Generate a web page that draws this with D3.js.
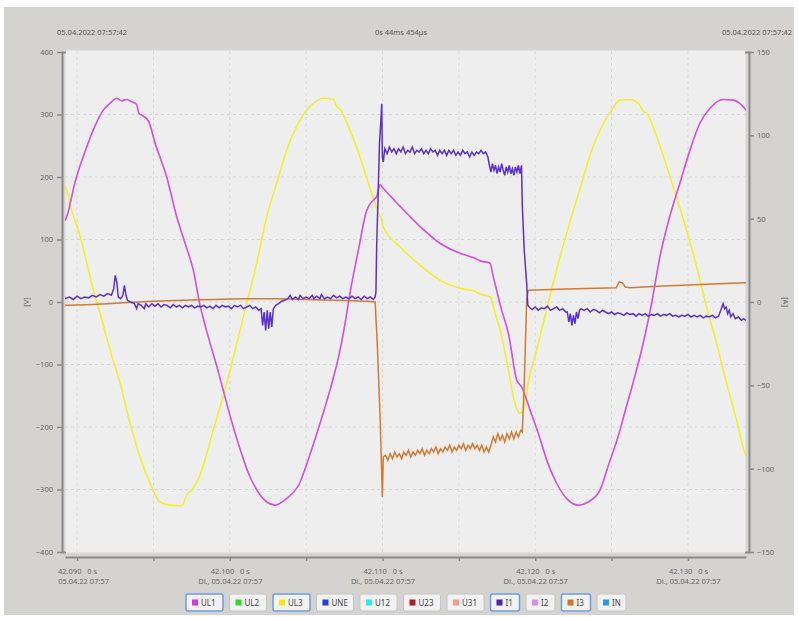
<!DOCTYPE html>
<html>
<head>
<meta charset="utf-8">
<script src="https://cdn.jsdelivr.net/npm/d3@7"></script>
<style>
  body { margin: 0; background: #ffffff; }
  svg text { font-family: "Noto Sans", "DejaVu Sans", sans-serif; }
</style>
</head>
<body>
<svg id="chart" width="798" height="617"></svg>
<script>
// header texts
const headLeft = '05.04.2022 07:57:42'
const headMid = '0s 44ms 454µs'
const headRight = '05.04.2022 07:57:42'

// ticks
const voltTicks = [-400, -300, -200, -100, 0, 100, 200, 300, 400]
const ampTicks = [-150, -100, -50, 0, 50, 100, 150]
const timeTicks = [90, 95, 100, 105, 110, 115, 120, 125, 130]   // ms after 42 s
const timeLabels = {
  90: ['42.090\u00a0\u00a0 0 s', '05.04.22 07:57'],
  100: ['42.100\u00a0\u00a0 0 s', 'Di., 05.04.22 07:57'],
  110: ['42.110\u00a0\u00a0 0 s', 'Di., 05.04.22 07:57'],
  120: ['42.120\u00a0\u00a0 0 s', 'Di., 05.04.22 07:57'],
  130: ['42.130\u00a0\u00a0 0 s', 'Di., 05.04.22 07:57']
}

// [ms, V]
const ul1 = [[89.21,130],[89.33,137],[89.87,192],[90.63,248],[91.2,283],[91.72,307],[92.16,318],[92.6,326],[92.9,322],[93.25,324],[93.6,320],[93.9,316],[94.05,302],[94.3,298],[94.67,290],[95.11,254],[95.87,200],[96.53,136],[97.07,94],[97.61,51],[98.05,-5],[98.38,-37],[99.15,-103],[100.23,-200],[101.33,-280],[102.42,-320],[102.96,-325],[103.73,-314],[104.49,-294],[105.25,-244],[105.91,-194],[106.56,-141],[107.22,-77],[107.55,-34],[107.87,14],[108.42,83],[108.97,147],[109.4,163],[109.62,169],[109.84,188],[110.05,182],[111.15,153],[112.45,121],[113.76,94],[115.07,78],[116.06,70],[116.38,66],[117.04,62],[117.25,41],[117.8,-13],[118.24,-50],[118.79,-125],[119.11,-136],[119.66,-173],[120.2,-210],[120.75,-253],[121.4,-290],[122.16,-317],[122.82,-325],[123.47,-320],[124.24,-301],[124.78,-262],[125.55,-205],[125.76,-186],[126.42,-128],[127.07,-66],[127.62,-2],[128.17,73],[128.81,137],[129.47,190],[130.13,243],[130.78,286],[131.44,310],[132.31,324],[132.96,323],[133.52,315],[133.8,307]]

const ul3 = [[89.21,186],[89.28,182],[89.65,147],[90.2,105],[90.64,62],[91.07,19],[91.51,-18],[92.16,-77],[92.82,-130],[93.47,-194],[94.12,-248],[94.78,-290],[95.43,-320],[96.09,-325],[96.85,-326],[97.18,-309],[97.61,-298],[98.05,-277],[98.92,-205],[99.8,-130],[100.46,-66],[101.11,-2],[101.76,62],[102.42,137],[103.07,190],[103.73,243],[104.6,291],[105.47,318],[106.12,326],[106.78,324],[107.0,313],[107.33,305],[107.55,293],[107.87,275],[108.53,232],[109.07,190],[109.51,158],[109.72,142],[109.95,131],[110.05,120],[111.15,88],[112.45,59],[113.76,35],[115.07,22],[116.06,17],[116.38,13],[117.04,8],[117.37,-18],[117.8,-55],[118.24,-109],[118.67,-162],[119.0,-178],[119.22,-173],[119.54,-130],[120.2,-66],[120.85,-2],[121.51,62],[122.38,137],[123.04,190],[123.7,243],[124.35,280],[125.0,307],[125.55,323],[126.2,324],[126.75,318],[127.07,305],[127.29,302],[127.95,265],[128.61,217],[129.25,168],[129.91,115],[130.56,57],[131.22,-8],[131.87,-66],[132.53,-130],[133.18,-189],[133.73,-242],[133.8,-246]]

// [ms, A]
const i1 = [[89.21,2],[89.5,3],[89.75,1.5],[90.0,3.5],[90.25,2],[90.5,3],[90.75,2.5],[91.0,4],[91.25,3],[91.5,4.5],[91.75,3.5],[92.0,5],[92.25,4],[92.4,8],[92.5,16],[92.6,12],[92.7,3],[92.85,2],[93.0,4],[93.1,10],[93.2,4],[93.3,1],[93.5,0],[93.75,-1],[93.9,-4],[94.0,-1],[94.2,-2],[94.4,-4],[94.5,-1],[94.7,-3],[94.9,-1],[95.1,-2.5],[95.3,-1],[95.5,-3],[95.7,-1.5],[95.9,-2],[96.1,-3.5],[96.3,-1.5],[96.5,-3],[96.7,-2],[96.9,-3.5],[97.1,-2],[97.3,-3],[97.5,-2],[97.7,-3.5],[97.9,-2.5],[98.1,-3],[98.3,-2],[98.5,-3.5],[98.7,-2.5],[98.9,-4],[99.1,-2],[99.3,-3.5],[99.5,-2],[99.7,-3],[99.9,-2.5],[100.1,-4],[100.3,-2],[100.5,-3],[100.7,-2],[100.9,-4],[101.1,-3],[101.3,-2],[101.5,-4],[101.7,-3],[101.9,-5],[102.05,-4],[102.15,-14],[102.25,-6],[102.35,-17],[102.45,-5],[102.55,-16],[102.65,-6],[102.75,-15],[102.85,-4],[103.0,-2],[103.2,-1],[103.4,0.5],[103.6,1],[103.8,2],[103.95,4],[104.1,1.5],[104.3,3],[104.5,1.5],[104.6,4],[104.8,2],[105.0,3],[105.2,2],[105.4,4],[105.5,2],[105.7,3.5],[105.9,2],[106.0,4.5],[106.2,2],[106.4,3],[106.6,2],[106.8,4],[107.0,2.5],[107.2,3.5],[107.4,2],[107.6,3],[107.8,2],[108.0,3.5],[108.2,2],[108.4,3],[108.6,1.5],[108.8,3.5],[109.0,2],[109.2,3],[109.4,1.5],[109.52,3],[109.57,6],[109.62,35],[109.7,60],[109.8,95],[109.9,110],[109.95,119],[109.99,87],[110.05,84],[110.15,92],[110.3,89],[110.45,93],[110.6,90],[110.75,92],[110.9,89],[111.05,92],[111.2,90],[111.35,93],[111.5,89],[111.65,91],[111.8,90],[111.95,93],[112.1,89],[112.25,91],[112.4,90],[112.55,92],[112.7,89],[112.85,91],[113.0,89],[113.15,92],[113.3,90],[113.45,91],[113.6,88],[113.75,91],[113.9,89],[114.05,91],[114.2,88],[114.35,91],[114.5,89],[114.65,91],[114.8,88],[114.95,90],[115.1,88],[115.25,91],[115.4,89],[115.55,90],[115.7,87],[115.85,90],[116.0,88],[116.15,90],[116.3,89],[116.45,91],[116.6,89],[116.75,90],[116.9,87],[117.0,82],[117.1,78],[117.2,83],[117.3,79],[117.4,82],[117.5,77],[117.6,81],[117.7,78],[117.8,83],[117.9,79],[118.0,76],[118.1,81],[118.2,78],[118.3,82],[118.4,77],[118.5,80],[118.6,76],[118.7,81],[118.8,78],[118.9,82],[119.0,77],[119.1,82],[119.15,59],[119.28,31],[119.44,11],[119.51,-2],[119.6,-3],[119.8,-4.5],[120.0,-3],[120.2,-5],[120.4,-3.5],[120.6,-4],[120.8,-2.5],[121.0,-5],[121.2,-4],[121.4,-3],[121.6,-5],[121.8,-4],[122.0,-6],[122.1,-6],[122.2,-12],[122.3,-7],[122.4,-14],[122.5,-8],[122.6,-13],[122.7,-6],[122.8,-10],[122.9,-5],[123.0,-4],[123.2,-5],[123.4,-4],[123.6,-6],[123.8,-4.5],[124.0,-5],[124.2,-6.5],[124.4,-5],[124.6,-6],[124.8,-7],[125.0,-6],[125.2,-7.5],[125.4,-6.5],[125.6,-7],[125.8,-8],[126.0,-6.5],[126.2,-7.5],[126.4,-7],[126.6,-8.5],[126.8,-7],[127.0,-8],[127.2,-7],[127.4,-8.5],[127.6,-7.5],[127.8,-8],[128.0,-7],[128.2,-8.5],[128.4,-7.5],[128.6,-8],[128.8,-7],[129.0,-8.5],[129.2,-8],[129.4,-9],[129.6,-8],[129.8,-8.5],[130.0,-7.5],[130.2,-9],[130.4,-8],[130.6,-9],[130.8,-8],[131.0,-9.5],[131.2,-8.5],[131.4,-9],[131.6,-8],[131.8,-9.5],[132.0,-8.5],[132.15,-5],[132.3,-1],[132.4,-4],[132.5,-3],[132.6,-7],[132.7,-5],[132.8,-9],[132.95,-7],[133.1,-10],[133.3,-9],[133.5,-11],[133.65,-10],[133.8,-11]]

const i3 = [[89.21,-2],[90.0,-1.8],[91.0,-1.5],[92.0,-1],[93.0,-0.5],[94.0,0],[95.0,0.5],[96.0,0.8],[97.0,1],[98.0,1.3],[99.0,1.5],[100.0,1.8],[101.0,2],[102.0,2],[103.0,2],[104.0,1.8],[105.0,1.5],[106.0,1.2],[107.0,1],[108.0,0.8],[109.0,0.5],[109.52,0],[109.57,-10],[109.62,-18],[109.66,-26],[109.84,-69],[109.99,-117],[110.05,-93],[110.2,-92],[110.35,-95],[110.5,-91],[110.65,-94],[110.8,-90],[110.95,-93],[111.1,-91],[111.25,-94],[111.4,-90],[111.55,-92],[111.7,-89],[111.85,-93],[112.0,-90],[112.15,-92],[112.3,-89],[112.45,-91],[112.6,-88],[112.75,-92],[112.9,-89],[113.05,-91],[113.2,-88],[113.35,-90],[113.5,-87],[113.65,-91],[113.8,-88],[113.95,-90],[114.1,-87],[114.25,-89],[114.4,-86],[114.55,-90],[114.7,-87],[114.85,-89],[115.0,-86],[115.15,-88],[115.3,-85],[115.45,-89],[115.6,-86],[115.75,-88],[115.9,-85],[116.05,-88],[116.2,-86],[116.35,-89],[116.5,-86],[116.65,-90],[116.8,-87],[116.95,-90],[117.1,-86],[117.25,-81],[117.4,-84],[117.55,-79],[117.7,-83],[117.85,-80],[118.0,-84],[118.15,-79],[118.3,-82],[118.45,-78],[118.6,-82],[118.75,-78],[118.9,-81],[119.05,-77],[119.15,-78],[119.28,-49],[119.44,1],[119.54,7],[120.0,7.2],[122.0,7.8],[124.0,8.2],[125.3,8.5],[125.5,12],[125.7,11.5],[125.9,9],[126.2,8.6],[128.0,9.4],[130.0,10.2],[132.0,10.9],[133.8,11.6]]

// legend
const legendNames = ['UL1', 'UL2', 'UL3', 'UNE', 'U12', 'U23', 'U31', 'I1', 'I2', 'I3', 'IN']
const legendColors = ['#e030e8', '#30d830', '#f4ec10', '#2040e0', '#30e8f0', '#a82030', '#f89a88', '#4a20b8', '#d090f0', '#d87420', '#2898f0']
const legendOn = ['UL1', 'UL3', 'I1', 'I3']

const svg = d3.select('#chart')

// background panel
svg.append('rect').attr('x', 4).attr('y', 7).attr('width', 790).attr('height', 608).attr('fill', '#d5d3d0')

const x = d3.scaleLinear().domain([89.21, 133.8]).range([65, 746])
const yV = d3.scaleLinear().domain([-400, 400]).range([552, 52])
const yA = d3.scaleLinear().domain([-150, 150]).range([552, 52])

// plot area
svg.append('rect').attr('x', 65).attr('y', 50).attr('width', 681).attr('height', 503)
  .attr('fill', '#eeeeee').attr('stroke', '#d8d8d8')

// grid
svg.append('g').selectAll('line').data(voltTicks.slice(1, -1)).join('line')
  .attr('x1', 65).attr('x2', 746)
  .attr('y1', d => yV(d)).attr('y2', d => yV(d))
  .attr('stroke', '#d6d6d6').attr('stroke-dasharray', '3,3')
svg.append('g').selectAll('line').data(timeTicks).join('line')
  .attr('x1', d => x(d)).attr('x2', d => x(d))
  .attr('y1', 51).attr('y2', 552)
  .attr('stroke', '#d9d9d9').attr('stroke-dasharray', '3,3')

// axes
const axisColor = '#8a8a8a'
const left = svg.append('g').attr('transform', 'translate(62,0)')
  .call(d3.axisLeft(yV).tickValues(voltTicks).tickSizeInner(5).tickSizeOuter(-4))
const right = svg.append('g').attr('transform', 'translate(749,0)')
  .call(d3.axisRight(yA).tickValues(ampTicks).tickSizeInner(5).tickSizeOuter(-4))
const bottom = svg.append('g').attr('transform', 'translate(0,557)')
  .call(d3.axisBottom(x).tickValues(timeTicks).tickSizeInner(4).tickSizeOuter(0).tickFormat(() => ''))

;[left, right, bottom].forEach(g => {
  g.select('.domain').attr('stroke', axisColor).attr('stroke-width', 2)
  g.selectAll('.tick line').attr('stroke', axisColor).attr('stroke-width', 1.5)
  g.selectAll('.tick text').attr('fill', '#666').attr('font-size', 7.5)
})
left.selectAll('.tick text').attr('x', -9)
right.selectAll('.tick text').attr('x', 8)

// two line time labels
bottom.selectAll('.tick').each(function(d) {
  const lab = timeLabels[d]
  if (!lab) return
  const t = d3.select(this).select('text').attr('y', 10).attr('dy', 0)
  t.append('tspan').attr('x', 0).attr('dy', '0.9em').text(lab[0])
  t.append('tspan').attr('x', d === 90 ? 6 : 0).attr('dy', '1.3em').text(lab[1])
})

// axis titles
svg.append('text').attr('transform', 'translate(29,302) rotate(-90)')
  .attr('text-anchor', 'middle').attr('font-size', 7.5).attr('fill', '#666').text('[V]')
svg.append('text').attr('transform', 'translate(783,302) rotate(90)')
  .attr('text-anchor', 'middle').attr('font-size', 7.5).attr('fill', '#666').text('[A]')

// header
svg.append('text').attr('x', 57).attr('y', 35).attr('font-size', 7.5).attr('fill', '#555').text(headLeft)
svg.append('text').attr('x', 401).attr('y', 35).attr('text-anchor', 'middle').attr('font-size', 7.5).attr('fill', '#555').text(headMid)
svg.append('text').attr('x', 792).attr('y', 35).attr('text-anchor', 'end').attr('font-size', 7.5).attr('fill', '#555').text(headRight)

// curves
const clip = svg.append('clipPath').attr('id', 'plotclip')
clip.append('rect').attr('x', 65).attr('y', 50).attr('width', 681).attr('height', 503)
const plot = svg.append('g').attr('clip-path', 'url(#plotclip)')

// voltages drawn smooth, currents keep their noise
const lineV = d3.line().curve(d3.curveMonotoneX).x(d => x(d[0])).y(d => yV(d[1]))
const lineA = d3.line().x(d => x(d[0])).y(d => yA(d[1]))

plot.append('path').datum(ul3).attr('d', lineV).attr('fill', 'none').attr('stroke', '#f2ee2e').attr('stroke-width', 1.6)
plot.append('path').datum(ul1).attr('d', lineV).attr('fill', 'none').attr('stroke', '#d44ee2').attr('stroke-width', 1.6)
plot.append('path').datum(i3).attr('d', lineA).attr('fill', 'none').attr('stroke', '#d47a30').attr('stroke-width', 1.5)
plot.append('path').datum(i1).attr('d', lineA).attr('fill', 'none').attr('stroke', '#5a30d4').attr('stroke-width', 1.5)

// legend buttons
let bx = 186
const legend = svg.append('g')
legendNames.forEach((name, k) => {
  const w = name.startsWith('I') ? 29 : 37
  const on = legendOn.includes(name)
  const b = legend.append('g').attr('transform', `translate(${bx},594)`)
  b.append('rect').attr('width', w).attr('height', 17).attr('rx', 2)
    .attr('fill', '#f2f2f2').attr('stroke', on ? '#6d9de0' : '#c4c4c4').attr('stroke-width', on ? 1.5 : 1)
  b.append('rect').attr('x', 6).attr('y', 5.5).attr('width', 6).attr('height', 6).attr('fill', legendColors[k])
  b.append('text').attr('x', 15).attr('y', 11.5).attr('font-size', 8).attr('fill', '#444').text(name)
  bx += w + 6.5
})
</script>
</body>
</html>
